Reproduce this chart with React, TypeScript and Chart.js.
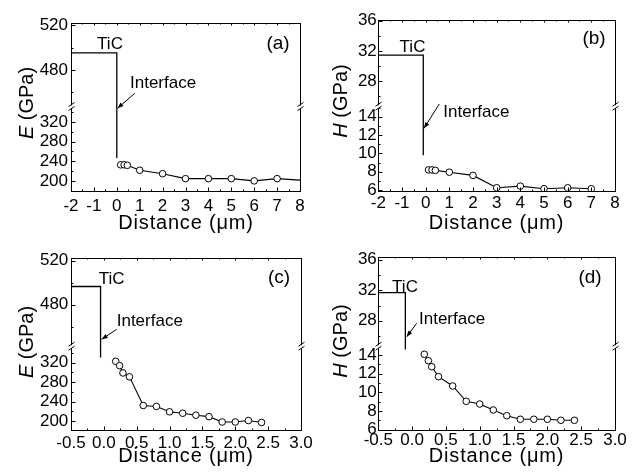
import React, { useEffect, useRef } from 'react';
import { Chart, registerables, LinearScale } from 'chart.js';

// ---------------- data ----------------
// (a) elastic modulus vs distance, 0-8 µm
const aDist = [0.17, 0.32, 0.46, 1, 2, 3, 4, 5, 6, 7, 8];
const aModulus = [233, 233, 232, 222, 215, 205, 205, 205, 200.5, 205, 202];
const aTicDist = [-2, 0, 0];
const aTicModulus = [495.4, 495.4, 247];

// (b) hardness vs distance, 0-8 µm
const bDist = [0.12, 0.27, 0.41, 1, 2, 3, 4, 5, 6, 7];
const bHardness = [8.2, 8.2, 8.15, 7.95, 7.6, 6.25, 6.43, 6.15, 6.25, 6.15];
const bTicDist = [-2, -0.1, -0.1];
const bTicHardness = [31.45, 31.45, 9.8];

// (c) elastic modulus vs distance, 0-3 µm
const cDist = [0.18, 0.24, 0.29, 0.39, 0.6, 0.8, 1.0, 1.2, 1.4, 1.6, 1.8, 2.0, 2.2, 2.4];
const cModulus = [323, 314, 299, 291, 232, 230, 219, 216, 212, 209, 198, 198, 201, 197];
const cTicDist = [-0.5, -0.05, -0.05];
const cTicModulus = [496.5, 496.5, 331];

// (d) hardness vs distance, 0-3 µm
const dDist = [0.18, 0.24, 0.29, 0.39, 0.6, 0.8, 1.0, 1.2, 1.4, 1.6, 1.8, 2.0, 2.2, 2.4];
const dHardness = [14.09, 13.4, 12.75, 11.68, 10.68, 9.03, 8.74, 8.1, 7.48, 7.1, 7.1, 7.1, 6.99, 6.99];
const dTicDist = [-0.5, -0.1, -0.1];
const dTicHardness = [31.7, 31.7, 14.6];

// tick values
const abXTicks = [-2, -1, 0, 1, 2, 3, 4, 5, 6, 7, 8];
const abXMinor = [-1.5, -0.5, 0.5, 1.5, 2.5, 3.5, 4.5, 5.5, 6.5, 7.5];
const cdXTicks = [-0.5, 0, 0.5, 1, 1.5, 2, 2.5, 3];
const cdXMinor = [-0.25, 0.25, 0.75, 1.25, 1.75, 2.25, 2.75];
const eTicks = [200, 240, 280, 320, 480, 520];
const eMinor = [220, 260, 300, 340, 460, 500];
const hTicks = [6, 8, 10, 12, 14, 28, 32, 36];
const hMinor = [7, 9, 11, 13, 15, 26, 30, 34];

// ---------------- broken (two-segment) linear scale ----------------
type Brk = { lowMin: number; lowMax: number; highMin: number; highMax: number; frac: number };
const breakMap = new WeakMap<HTMLCanvasElement, Brk>();

class BrokenScale extends LinearScale {
  static id = 'broken';
  static defaults = {};
  getPixelForValue(value: number) {
    const b = breakMap.get((this as any).chart.canvas);
    if (!b || value === null || value === undefined || isNaN(value)) return super.getPixelForValue(value);
    const top = this.top;
    const bottom = this.bottom;
    const mid = top + (bottom - top) * b.frac;
    if (value >= (b.lowMax + b.highMin) / 2) {
      return mid - ((value - b.highMin) / (b.highMax - b.highMin)) * (mid - top);
    }
    return bottom - ((value - b.lowMin) / (b.lowMax - b.lowMin)) * (bottom - mid);
  }
  getValueForPixel(pixel: number) {
    const b = breakMap.get((this as any).chart.canvas);
    if (!b) return super.getValueForPixel(pixel);
    const top = this.top;
    const bottom = this.bottom;
    const mid = top + (bottom - top) * b.frac;
    if (pixel <= mid) return b.highMin + ((mid - pixel) / (mid - top)) * (b.highMax - b.highMin);
    return b.lowMin + ((bottom - pixel) / (bottom - mid)) * (b.lowMax - b.lowMin);
  }
}

Chart.register(...registerables, BrokenScale as any);
Chart.defaults.font.family = '"Liberation Sans", Arial, sans-serif';
Chart.defaults.color = '#000';

const FONT = '"Liberation Sans", Arial, sans-serif';
const CW = 316;
const CH = 238;
const YW = 44;
const XH = 40;

type PanelCfg = {
  cx: number; cy: number;
  plot: { l: number; t: number; r: number; b: number };
  brk: Brk;
  xMin: number; xMax: number;
  xTicks: number[]; xMinor: number[]; xDec: number;
  yTicks: number[]; yMinor: number[];
  dist: number[]; vals: number[];
  ticDist: number[]; ticVals: number[];
  lastNoMarker: boolean;
  xPad: number; yPad: number;
  letter: string; letterPos: [number, number];
  ticPos: [number, number];
  ifPos: [number, number];
  arrow: [number, number, number, number];
  yTitle: string; yTitlePos: [number, number];
  xTitlePos: [number, number];
};

const panels: PanelCfg[] = [
  {
    cx: 0, cy: 0, plot: { l: 71, t: 23, r: 300, b: 191 },
    brk: { lowMin: 180, lowMax: 350, highMin: 447, highMax: 522, frac: 0.5 },
    xMin: -2, xMax: 8, xTicks: abXTicks, xMinor: abXMinor, xDec: 0,
    yTicks: eTicks, yMinor: eMinor,
    dist: aDist, vals: aModulus, ticDist: aTicDist, ticVals: aTicModulus, lastNoMarker: true,
    xPad: 5.5, yPad: 3,
    letter: '(a)', letterPos: [278, 44], ticPos: [110, 44], ifPos: [130, 83],
    arrow: [134.7, 93.3, 117.5, 108.3],
    yTitle: 'E', yTitlePos: [27, 103], xTitlePos: [186, 223.5],
  },
  {
    cx: 316, cy: 0, plot: { l: 378.3, t: 20, r: 615, b: 190.7 },
    brk: { lowMin: 5.93, lowMax: 15.1, highMin: 24.6, highMax: 36.1, frac: 0.508 },
    xMin: -2, xMax: 8, xTicks: abXTicks, xMinor: abXMinor, xDec: 0,
    yTicks: hTicks, yMinor: hMinor,
    dist: bDist, vals: bHardness, ticDist: bTicDist, ticVals: bTicHardness, lastNoMarker: false,
    xPad: 2.4, yPad: 1.5,
    letter: '(b)', letterPos: [594, 39], ticPos: [412.5, 47.5], ifPos: [443.3, 112.5],
    arrow: [439.3, 104, 424, 128.3],
    yTitle: 'H', yTitlePos: [341.7, 101], xTitlePos: [496.5, 223],
  },
  {
    cx: 0, cy: 238, plot: { l: 71, t: 258.3, r: 301, b: 430 },
    brk: { lowMin: 181.5, lowMax: 353, highMin: 442, highMax: 522, frac: 0.515 },
    xMin: -0.5, xMax: 3, xTicks: cdXTicks, xMinor: cdXMinor, xDec: 1,
    yTicks: eTicks, yMinor: eMinor,
    dist: cDist, vals: cModulus, ticDist: cTicDist, ticVals: cTicModulus, lastNoMarker: false,
    xPad: 3.1, yPad: 2.7,
    letter: '(c)', letterPos: [279, 277.5], ticPos: [111.7, 279], ifPos: [116.7, 321],
    arrow: [116.7, 329.3, 101.7, 339.3],
    yTitle: 'E', yTitlePos: [27, 342], xTitlePos: [186, 456],
  },
  {
    cx: 316, cy: 238, plot: { l: 378.3, t: 256.7, r: 615, b: 429.5 },
    brk: { lowMin: 6.0, lowMax: 14.9, highMin: 24.6, highMax: 36.4, frac: 0.521 },
    xMin: -0.5, xMax: 3, xTicks: cdXTicks, xMinor: cdXMinor, xDec: 1,
    yTicks: hTicks, yMinor: hMinor,
    dist: dDist, vals: dHardness, ticDist: dTicDist, ticVals: dTicHardness, lastNoMarker: false,
    xPad: 0.8, yPad: 1.5,
    letter: '(d)', letterPos: [590, 278], ticPos: [405, 287.5], ifPos: [419, 319],
    arrow: [416.7, 323.3, 406.7, 336.7],
    yTitle: 'H', yTitlePos: [341.7, 341], xTitlePos: [496.5, 456],
  },
];

const near = (arr: number[], v: number) => arr.some((a) => Math.abs(a - v) < 1e-6);
const inSeg = (b: Brk, v: number) => (v >= b.lowMin && v <= b.lowMax) || (v >= b.highMin && v <= b.highMax);
const crisp = (v: number) => Math.round(v) + 0.5;

function makeDecor(cfg: PanelCfg) {
  return {
    id: 'decor',
    afterDraw(chart: any) {
      const ctx: CanvasRenderingContext2D = chart.ctx;
      const { left, right, top, bottom } = chart.chartArea;
      const xs = chart.scales.x;
      const ys = chart.scales.y;
      const L = crisp(left), R = crisp(right), T = crisp(top), B = crisp(bottom);
      ctx.save();
      ctx.strokeStyle = '#000';
      ctx.lineWidth = 1;
      // frame
      ctx.strokeRect(L, T, R - L, B - T);
      // inward ticks
      ctx.beginPath();
      const yAll = [...cfg.yTicks.map((v) => [v, 4]), ...cfg.yMinor.map((v) => [v, 2])];
      for (const [v, len] of yAll) {
        if (!inSeg(cfg.brk, v)) continue;
        const py = crisp(ys.getPixelForValue(v));
        ctx.moveTo(L, py);
        ctx.lineTo(L + len, py);
      }
      const xAll = [...cfg.xTicks.map((v) => [v, 4]), ...cfg.xMinor.map((v) => [v, 2])];
      for (const [v, len] of xAll) {
        const px = crisp(xs.getPixelForValue(v));
        ctx.moveTo(px, B);
        ctx.lineTo(px, B - len);
        ctx.moveTo(px, T);
        ctx.lineTo(px, T + len / 2);
      }
      ctx.stroke();
      // axis break marks
      const by = top + (bottom - top) * cfg.brk.frac;
      for (const x of [L, R]) {
        ctx.fillStyle = '#fff';
        ctx.fillRect(x - 1.5, by - 1.5, 3, 3);
        ctx.beginPath();
        ctx.moveTo(x - 3, by - 0.5);
        ctx.lineTo(x + 3, by - 4.5);
        ctx.moveTo(x - 3, by + 3.5);
        ctx.lineTo(x + 3, by - 0.5);
        ctx.stroke();
      }
      // annotations
      const ox = cfg.cx;
      const oy = cfg.cy;
      ctx.fillStyle = '#000';
      ctx.textBaseline = 'middle';
      ctx.textAlign = 'center';
      ctx.font = `19px ${FONT}`;
      ctx.fillText(cfg.letter, cfg.letterPos[0] - ox, cfg.letterPos[1] - oy);
      ctx.font = `17px ${FONT}`;
      ctx.fillText('TiC', cfg.ticPos[0] - ox, cfg.ticPos[1] - oy);
      ctx.textAlign = 'left';
      ctx.fillText('Interface', cfg.ifPos[0] - ox, cfg.ifPos[1] - oy);
      // arrow
      const [x1, y1, x2, y2] = cfg.arrow.map((v, i) => (i % 2 === 0 ? v - ox : v - oy));
      ctx.beginPath();
      ctx.moveTo(x1, y1);
      ctx.lineTo(x2, y2);
      ctx.stroke();
      const ang = Math.atan2(y2 - y1, x2 - x1);
      const hl = 6, hw = 2.3;
      const bx = x2 - hl * Math.cos(ang), byy = y2 - hl * Math.sin(ang);
      ctx.beginPath();
      ctx.moveTo(x2, y2);
      ctx.lineTo(bx - hw * Math.sin(ang), byy + hw * Math.cos(ang));
      ctx.lineTo(bx + hw * Math.sin(ang), byy - hw * Math.cos(ang));
      ctx.closePath();
      ctx.fill();
      // x title
      ctx.textAlign = 'center';
      ctx.font = `20px ${FONT}`;
      (ctx as any).letterSpacing = '0.8px';
      ctx.fillText('Distance (\u03bcm)', cfg.xTitlePos[0] - ox, cfg.xTitlePos[1] - oy);
      (ctx as any).letterSpacing = '0px';
      // y title, rotated, italic symbol
      ctx.save();
      ctx.translate(cfg.yTitlePos[0] - ox, cfg.yTitlePos[1] - oy);
      ctx.rotate(-Math.PI / 2);
      ctx.textAlign = 'left';
      ctx.font = `italic 20px ${FONT}`;
      const w1 = ctx.measureText(cfg.yTitle).width;
      ctx.font = `20px ${FONT}`;
      const rest = ' (GPa)';
      const w2 = ctx.measureText(rest).width;
      const sx = -(w1 + w2) / 2;
      ctx.font = `italic 20px ${FONT}`;
      ctx.fillText(cfg.yTitle, sx, 0);
      ctx.font = `20px ${FONT}`;
      ctx.fillText(rest, sx + w1, 0);
      ctx.restore();
      ctx.restore();
    },
  };
}

function Panel({ cfg }: { cfg: PanelCfg }) {
  const ref = useRef<HTMLCanvasElement>(null);
  useEffect(() => {
    const canvas = ref.current!;
    breakMap.set(canvas, cfg.brk);
    const pad = {
      left: cfg.plot.l - cfg.cx - YW,
      top: cfg.plot.t - cfg.cy,
      right: cfg.cx + CW - cfg.plot.r,
      bottom: cfg.cy + CH - cfg.plot.b - XH,
    };
    const n = cfg.dist.length;
    const chart = new Chart(canvas, {
      type: 'line',
      data: {
        datasets: [
          {
            data: cfg.ticDist.map((x, i) => ({ x, y: cfg.ticVals[i] })),
            borderColor: '#000',
            borderWidth: 1.3,
            pointRadius: 0,
            fill: false,
            tension: 0,
          },
          {
            data: cfg.dist.map((x, i) => ({ x, y: cfg.vals[i] })),
            borderColor: '#000',
            borderWidth: 1.1,
            pointRadius: (c: any) => (cfg.lastNoMarker && c.dataIndex === n - 1 ? 0 : 3.3),
            pointBackgroundColor: '#fff',
            pointBorderColor: '#000',
            pointBorderWidth: 1,
            fill: false,
            tension: 0,
          },
        ],
      },
      options: {
        animation: false,
        responsive: false,
        devicePixelRatio: 1,
        events: [],
        layout: { padding: pad },
        plugins: { legend: { display: false }, tooltip: { enabled: false } },
        scales: {
          x: {
            type: 'linear',
            min: cfg.xMin,
            max: cfg.xMax,
            afterBuildTicks: (s: any) => {
              s.ticks = cfg.xTicks.map((v) => ({ value: v }));
            },
            afterFit: (s: any) => {
              s.height = XH;
              s.paddingLeft = 0;
              s.paddingRight = 0;
            },
            ticks: {
              autoSkip: false,
              maxRotation: 0,
              padding: cfg.xPad,
              font: { size: 17, family: FONT },
              color: '#000',
              callback: (v: any) => Number(v).toFixed(cfg.xDec),
            },
            grid: { display: false, drawTicks: false },
            border: { display: false },
          },
          y: {
            type: 'broken' as any,
            min: cfg.brk.lowMin,
            max: cfg.brk.highMax,
            afterBuildTicks: (s: any) => {
              s.ticks = cfg.yTicks.map((v) => ({ value: v }));
            },
            afterFit: (s: any) => {
              s.width = YW;
              s.paddingTop = 0;
              s.paddingBottom = 0;
            },
            ticks: {
              autoSkip: false,
              padding: cfg.yPad,
              font: { size: 17, family: FONT },
              color: '#000',
              callback: (v: any) => (near(cfg.yTicks, Number(v)) ? String(v) : ''),
            },
            grid: { display: false, drawTicks: false },
            border: { display: false },
          },
        } as any,
      },
      plugins: [makeDecor(cfg)],
    } as any);
    return () => chart.destroy();
  }, [cfg]);
  return (
    <canvas
      ref={ref}
      width={CW}
      height={CH}
      style={{ position: 'absolute', left: cfg.cx, top: cfg.cy, width: CW, height: CH }}
    />
  );
}

export default function App() {
  return (
    <div style={{ position: 'absolute', left: 0, top: 0, width: 632, height: 476, background: '#fff' }}>
      {panels.map((p) => (
        <Panel key={p.letter} cfg={p} />
      ))}
    </div>
  );
}
